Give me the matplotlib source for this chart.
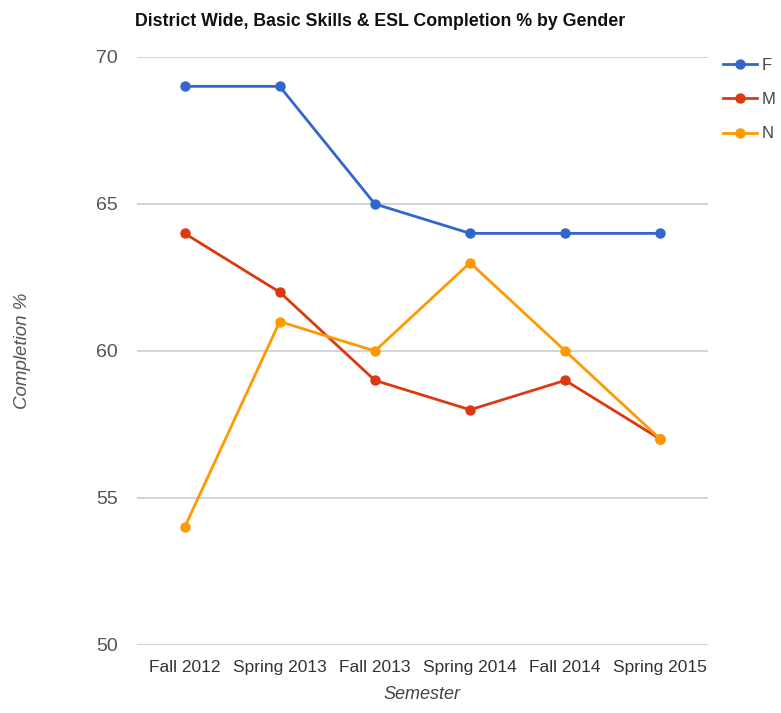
import matplotlib.pyplot as plt

plt.rcParams['font.family'] = ['Liberation Sans', 'DejaVu Sans']

semesters = ["Fall 2012", "Spring 2013", "Fall 2013", "Spring 2014", "Fall 2014", "Spring 2015"]
female = [69, 69, 65, 64, 64, 64]
male = [64, 62, 59, 58, 59, 57]
unknown = [54, 61, 60, 63, 60, 57]
yticks = [50, 55, 60, 65, 70]

fig = plt.figure(figsize=(7.81, 7.13), dpi=100)
ax = fig.add_axes([0.1754, 0.0954, 0.7311, 0.8247])

x = list(range(len(semesters)))
ax.plot(x, female, color="#3366cc", lw=2, marker="o", ms=6.5, label="F")
ax.plot(x, male, color="#dc3912", lw=2, marker="o", ms=6.5, label="M")
ax.plot(x, unknown, color="#ff9900", lw=2, marker="o", ms=6.5, label="N")

ax.set_xlim(-0.5, len(semesters) - 0.5)
ax.set_ylim(50, 70)
ax.set_yticks(yticks)
ax.set_xticks(x)
ax.set_xticklabels(semesters, fontsize=12.5, color="#333333")
ax.tick_params(axis="y", labelsize=14, colors="#555555", length=0, pad=13.5)
ax.tick_params(axis="x", length=0, pad=11)
ax.grid(axis="y", color="#cccccc", lw=1.2)
ax.set_axisbelow(True)
for s in ax.spines.values():
    s.set_visible(False)

ax.set_xlabel("Semester", fontsize=13, style="italic", color="#444444", labelpad=8)
ax.set_ylabel("Completion %", fontsize=13.5, style="italic", color="#555555", labelpad=47)

fig.text(0.173, 0.970, "District Wide, Basic Skills & ESL Completion % by Gender",
         fontsize=12.8, fontweight="bold", color="#111111", va="center", ha="left")

# legend sits to the right of the plot, one entry per series
fig.legend(loc="upper left", bbox_to_anchor=(0.926, 0.919), frameon=False,
           fontsize=12, handlelength=2.0, labelspacing=1.16, handletextpad=0.3,
           borderpad=0, borderaxespad=0, labelcolor="#444444")

plt.savefig("out.png")
plt.close()
